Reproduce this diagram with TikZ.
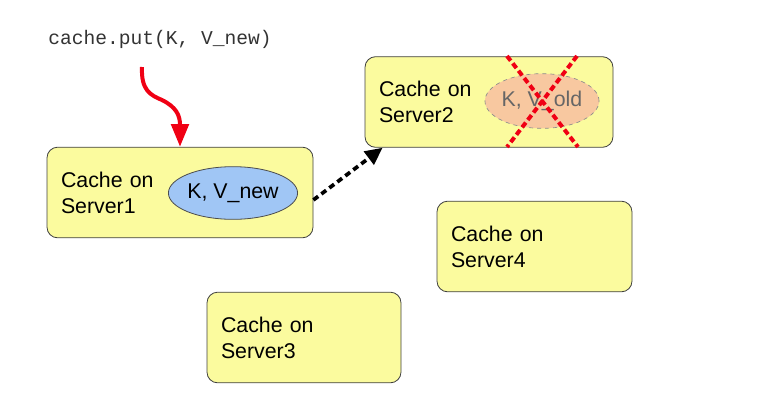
\documentclass[tikz,border=0pt]{standalone}
\usepackage{fontspec}
\setmainfont{Liberation Sans}
\setmonofont{Liberation Mono}
\usetikzlibrary{arrows.meta}
\usetikzlibrary{shapes.geometric}
\definecolor{cacheyellow}{RGB}{251,251,158}
\definecolor{newblue}{RGB}{160,198,245}
\definecolor{oldorange}{RGB}{248,200,160}
\definecolor{crossred}{RGB}{240,0,20}

\begin{document}
\begin{tikzpicture}[x=0.75pt,y=-0.75pt,
  cachebox/.style={rectangle,draw=black!75,line width=0.6pt,rounded corners=8pt,fill=cacheyellow,align=left,inner xsep=10.5pt,minimum height=68pt,font=\fontsize{16}{19.5}\selectfont},
  entry/.style={ellipse,draw,inner sep=0pt,font=\fontsize{16}{19.5}\selectfont}]
\useasboundingbox (0,0) rectangle (758,404);
\node[font=\fontsize{14.7}{17}\ttfamily,text=black!80,anchor=west,inner sep=0pt] (put) at (48,39) {cache.put(K, V\_new)};

 \node[cachebox,text width=178.5pt] (srv1) at (180,192.5) {Cache on\\Server1};
 \node[cachebox,text width=165pt] (srv2) at (489,102) {Cache on\\Server2};
  \node[cachebox,text width=125.25pt] (srv4) at (534.5,246.5) {Cache on\\Server4};
  \node[cachebox,text width=124.5pt] (srv3) at (304,337.5) {Cache on\\Server3};

   \node[entry,fill=newblue,draw=black!70,line width=0.6pt,minimum width=90pt,minimum height=39.5pt] (vnew) at (233,193) {K, V\_new};
   \node[entry,fill=oldorange,draw=black!45,dashed,line width=0.5pt,text=black!60,minimum width=78pt,minimum height=41pt] (vold) at (542,101) {K, V\_old};

% the old entry is crossed out
\coordinate (xnw) at (507,56);
\coordinate (xse) at (578,147);
\coordinate (xne) at (577,56);
\coordinate (xsw) at (507,147);
    \draw[crossred,line width=3pt,dash pattern=on 4.5pt off 2.5pt] (xnw) -- (xse);
    \draw[crossred,line width=3pt,dash pattern=on 4.5pt off 2.5pt] (xne) -- (xsw);

\coordinate (putstart) at (142,67);
  \draw[crossred,line width=3pt,-{Triangle[length=17pt,width=13pt]}] (putstart) .. controls (141,90) and (150,95) .. (162,100) .. controls (176,107) and (180,115) .. (srv1.north);
  \draw[line width=2.8pt,dash pattern=on 4.5pt off 3pt,-{Triangle[length=13pt,width=12pt]}] ([yshift=-5.6pt]srv1.east) -- ([xshift=13.5pt]srv2.south west);
\end{tikzpicture}
\end{document}
